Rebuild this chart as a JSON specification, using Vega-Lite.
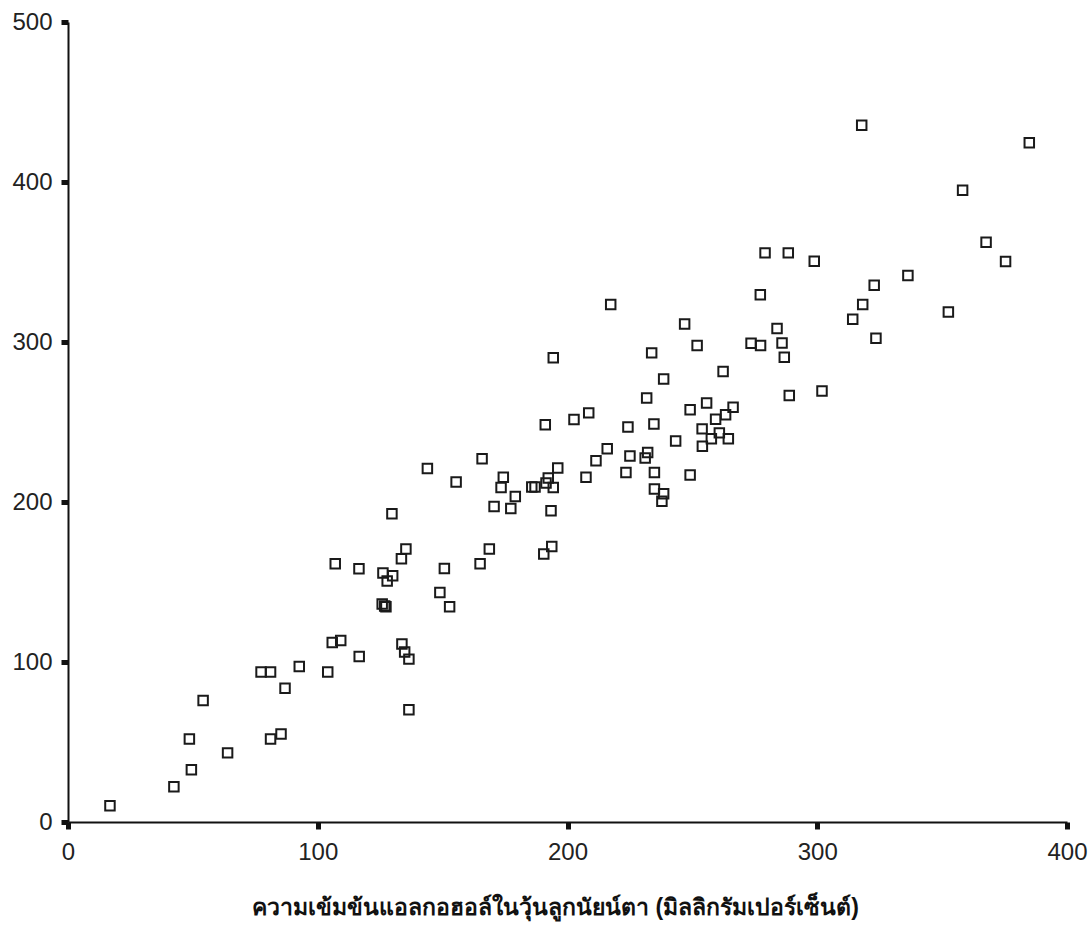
{
  "$schema": "https://vega.github.io/schema/vega-lite/v6.json",
  "width": 999,
  "height": 800,
  "autosize": {"type": "none"},
  "padding": {"left": 68, "top": 22, "right": 25, "bottom": 107},
  "background": "white",
  "config": {
    "view": {"stroke": null},
    "axis": {
      "grid": false,
      "domainColor": "#111111",
      "domainWidth": 2,
      "tickColor": "#111111",
      "tickWidth": 5,
      "tickSize": 7,
      "labelFont": "Liberation Sans",
      "labelFontSize": 24,
      "labelColor": "#222222",
      "labelFlush": false,
      "labelOverlap": false,
      "labelBound": false
    }
  },
  "data": {
    "values": [
      {"x": 16.8, "y": 10.2}, {"x": 42.4, "y": 22.1}, {"x": 49.4, "y": 32.7}, {"x": 48.6, "y": 51.9},
      {"x": 54.1, "y": 75.9}, {"x": 63.9, "y": 43.2}, {"x": 77.3, "y": 93.8}, {"x": 81.1, "y": 93.8},
      {"x": 86.9, "y": 83.6}, {"x": 81.1, "y": 51.9}, {"x": 85.3, "y": 55.0}, {"x": 92.6, "y": 97.2},
      {"x": 104.0, "y": 93.8}, {"x": 105.8, "y": 112.2}, {"x": 109.2, "y": 113.4}, {"x": 116.6, "y": 103.4},
      {"x": 107.0, "y": 161.4}, {"x": 116.5, "y": 158.3}, {"x": 126.1, "y": 155.6}, {"x": 130.0, "y": 153.9},
      {"x": 127.8, "y": 150.6}, {"x": 125.8, "y": 136.2}, {"x": 126.8, "y": 135.0}, {"x": 127.3, "y": 134.6},
      {"x": 133.7, "y": 111.2}, {"x": 134.8, "y": 106.2}, {"x": 136.5, "y": 101.8}, {"x": 136.5, "y": 70.1},
      {"x": 129.7, "y": 192.7}, {"x": 133.5, "y": 164.5}, {"x": 135.3, "y": 170.6}, {"x": 143.9, "y": 221.0},
      {"x": 148.9, "y": 143.4}, {"x": 150.7, "y": 158.5}, {"x": 152.8, "y": 134.5}, {"x": 155.4, "y": 212.5},
      {"x": 165.0, "y": 161.4}, {"x": 168.7, "y": 170.6}, {"x": 165.8, "y": 227.1}, {"x": 170.6, "y": 197.2},
      {"x": 173.4, "y": 209.1}, {"x": 174.3, "y": 215.4}, {"x": 177.3, "y": 196.0}, {"x": 179.1, "y": 203.5},
      {"x": 185.7, "y": 209.4}, {"x": 187.0, "y": 209.4}, {"x": 190.5, "y": 167.5}, {"x": 193.7, "y": 172.2},
      {"x": 191.1, "y": 248.3}, {"x": 191.4, "y": 211.9}, {"x": 192.3, "y": 215.0}, {"x": 193.4, "y": 194.5},
      {"x": 194.3, "y": 209.1}, {"x": 196.1, "y": 221.2}, {"x": 194.3, "y": 290.1}, {"x": 202.6, "y": 251.5},
      {"x": 208.5, "y": 255.7}, {"x": 207.4, "y": 215.4}, {"x": 211.4, "y": 225.8}, {"x": 215.9, "y": 233.3},
      {"x": 217.3, "y": 323.4}, {"x": 223.4, "y": 218.5}, {"x": 224.2, "y": 246.9}, {"x": 225.0, "y": 228.8},
      {"x": 231.1, "y": 227.5}, {"x": 232.1, "y": 231.0}, {"x": 231.7, "y": 265.0}, {"x": 233.7, "y": 293.2},
      {"x": 234.6, "y": 248.8}, {"x": 234.8, "y": 218.5}, {"x": 234.8, "y": 208.1}, {"x": 238.5, "y": 205.2},
      {"x": 237.8, "y": 200.4}, {"x": 238.5, "y": 276.9}, {"x": 243.3, "y": 238.1}, {"x": 246.9, "y": 311.3},
      {"x": 249.1, "y": 257.7}, {"x": 249.1, "y": 216.9}, {"x": 251.9, "y": 297.8}, {"x": 253.9, "y": 245.7},
      {"x": 254.0, "y": 234.8}, {"x": 255.7, "y": 261.9}, {"x": 257.6, "y": 239.6}, {"x": 259.3, "y": 251.7},
      {"x": 260.8, "y": 243.2}, {"x": 262.3, "y": 281.5}, {"x": 263.3, "y": 254.6}, {"x": 264.4, "y": 239.6},
      {"x": 266.3, "y": 259.2}, {"x": 273.5, "y": 299.2}, {"x": 277.3, "y": 297.8}, {"x": 277.2, "y": 329.5},
      {"x": 279.1, "y": 355.7}, {"x": 283.9, "y": 308.4}, {"x": 285.9, "y": 299.4}, {"x": 286.8, "y": 290.4},
      {"x": 288.4, "y": 355.7}, {"x": 288.8, "y": 266.5}, {"x": 298.8, "y": 350.5}, {"x": 301.9, "y": 269.4},
      {"x": 314.2, "y": 314.2}, {"x": 317.8, "y": 435.4}, {"x": 318.2, "y": 323.4}, {"x": 322.8, "y": 335.5},
      {"x": 323.5, "y": 302.3}, {"x": 336.3, "y": 341.5}, {"x": 352.5, "y": 318.8}, {"x": 358.2, "y": 394.9},
      {"x": 367.6, "y": 362.4}, {"x": 375.4, "y": 350.3}, {"x": 384.9, "y": 424.5}
    ]
  },
  "mark": {"type": "point", "shape": "square", "filled": false, "size": 90, "strokeWidth": 2, "color": "#1a1a1a", "opacity": 1},
  "encoding": {
    "x": {
      "field": "x",
      "type": "quantitative",
      "scale": {"domain": [0, 400], "nice": false},
      "axis": {
        "values": [0, 100, 200, 300, 400],
        "labelPadding": 11,
        "title": "ความเข้มข้นแอลกอฮอล์ในวุ้นลูกนัยน์ตา (มิลลิกรัมเปอร์เซ็นต์)",
        "titleFontWeight": "bold",
        "titleFontSize": 23,
        "titleColor": "#111111",
        "titleX": 487,
        "titleAlign": "center",
        "titlePadding": 32
      }
    },
    "y": {
      "field": "y",
      "type": "quantitative",
      "scale": {"domain": [0, 500], "nice": false},
      "axis": {
        "values": [0, 100, 200, 300, 400, 500],
        "labelPadding": 9,
        "title": null
      }
    }
  }
}
